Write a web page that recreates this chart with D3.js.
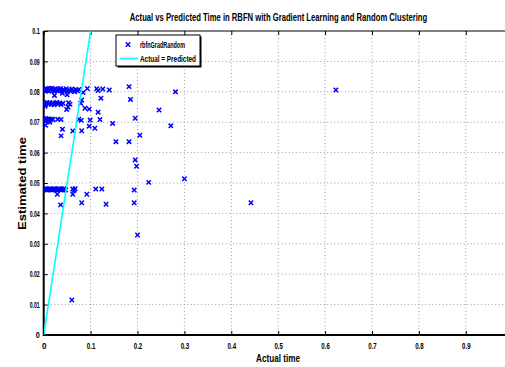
<!DOCTYPE html>
<html>
<head>
<meta charset="utf-8">
<script src="https://cdn.jsdelivr.net/npm/d3@7"></script>
<style>
  body { margin: 0; background: #fff; }
  text { font-family: "Liberation Sans Narrow", "Liberation Sans", Arial, sans-serif; }
</style>
</head>
<body>
<script>
// [actual, estimated] pairs
let points = [
  // row near 0.08
  [0.001,0.0808],[0.003,0.0803],[0.005,0.0811],[0.007,0.0805],[0.009,0.0809],[0.011,0.0802],
  [0.013,0.0810],[0.015,0.0806],[0.017,0.0812],[0.019,0.0804],[0.021,0.0808],[0.023,0.0801],
  [0.025,0.0810],[0.027,0.0806],[0.029,0.0803],[0.031,0.0809],[0.034,0.0805],[0.036,0.0811],
  [0.039,0.0802],[0.042,0.0807],[0.045,0.0804],[0.048,0.0810],[0.051,0.0801],[0.054,0.0806],
  [0.057,0.0803],[0.060,0.0809],[0.063,0.0805],[0.066,0.0800],[0.069,0.0807],[0.072,0.0803],
  [0.075,0.0808],
  [0.023,0.0788],[0.050,0.0790],[0.040,0.0795],[0.084,0.0798],[0.093,0.0811],[0.113,0.0810],
  [0.116,0.0804],[0.126,0.0809],[0.140,0.0806],[0.182,0.0817],[0.122,0.0779],[0.185,0.0775],
  [0.281,0.0800],[0.623,0.0806],
  // row near 0.076
  [0.001,0.0763],[0.004,0.0758],[0.007,0.0765],[0.010,0.0760],[0.013,0.0764],[0.016,0.0759],
  [0.019,0.0763],[0.022,0.0757],[0.025,0.0762],[0.028,0.0765],[0.031,0.0760],[0.034,0.0763],
  [0.037,0.0758],[0.041,0.0762],[0.053,0.0764],[0.056,0.0759],[0.081,0.0773],[0.079,0.0762],
  [0.049,0.0742],[0.052,0.0750],[0.003,0.0752],[0.088,0.0746],[0.097,0.0743],[0.116,0.0733],
  [0.246,0.0740],
  // row near 0.071
  [0.000,0.0710],[0.002,0.0706],[0.004,0.0712],[0.006,0.0708],[0.008,0.0711],[0.010,0.0705],
  [0.012,0.0710],[0.014,0.0707],[0.017,0.0711],[0.020,0.0708],[0.030,0.0710],[0.037,0.0709],
  [0.075,0.0710],[0.080,0.0706],[0.099,0.0707],[0.120,0.0709],[0.195,0.0713],
  [0.004,0.0690],[0.013,0.0700],[0.040,0.0677],[0.037,0.0655],[0.062,0.0671],[0.081,0.0672],
  [0.097,0.0687],[0.109,0.0680],[0.147,0.0696],[0.271,0.0688],[0.154,0.0636],[0.182,0.0636],
  [0.205,0.0657],
  // middle
  [0.195,0.0576],[0.198,0.0555],[0.224,0.0502],[0.300,0.0514],
  // row near 0.048
  [0.001,0.0480],[0.003,0.0478],[0.005,0.0481],[0.007,0.0477],[0.009,0.0480],[0.011,0.0478],
  [0.013,0.0481],[0.015,0.0479],[0.017,0.0477],[0.019,0.0480],[0.021,0.0478],[0.023,0.0481],
  [0.025,0.0479],[0.027,0.0477],[0.029,0.0480],[0.031,0.0478],[0.033,0.0481],[0.035,0.0479],
  [0.037,0.0477],[0.039,0.0480],[0.041,0.0478],[0.043,0.0481],[0.045,0.0479],[0.047,0.0477],
  [0.062,0.0480],[0.065,0.0476],[0.067,0.0481],
  [0.062,0.0463],[0.029,0.0463],[0.036,0.0428],[0.081,0.0435],[0.092,0.0463],[0.111,0.0480],
  [0.124,0.0480],[0.133,0.0430],[0.193,0.0477],[0.193,0.0435],[0.200,0.0329],[0.442,0.0435],
  [0.060,0.0115]
];
let idealLine = [0, 0.1];
let xTicks = [0, 0.1, 0.2, 0.3, 0.4, 0.5, 0.6, 0.7, 0.8, 0.9];
let yTicks = [0, 0.01, 0.02, 0.03, 0.04, 0.05, 0.06, 0.07, 0.08, 0.09, 0.1];
let legendLabels = ['rbfnGradRandom', 'Actual = Predicted'];

let width = 505, height = 367;
let margin = { left: 43.7, top: 31, bottom: 335, right: 512.7 };

let svg = d3.select('body').append('svg')
  .attr('width', width).attr('height', height);

let x = d3.scaleLinear().domain([0, 1]).range([margin.left, margin.right]);
let y = d3.scaleLinear().domain([0, 0.1]).range([margin.bottom, margin.top]);

// grid
let grid = svg.append('g').attr('stroke', '#9a9a9a').attr('stroke-dasharray', '1,2.5').attr('stroke-width', 1);
grid.selectAll('.gx').data(xTicks.slice(1)).enter().append('line')
  .attr('x1', d => x(d)).attr('x2', d => x(d)).attr('y1', margin.top).attr('y2', margin.bottom);
grid.selectAll('.gy').data(yTicks.slice(1, -1)).enter().append('line')
  .attr('y1', d => y(d)).attr('y2', d => y(d)).attr('x1', margin.left).attr('x2', width);

// axes
let fmt = d => d === 0 ? '0' : String(+d.toFixed(2));
let xAxis = d3.axisBottom(x).tickValues(xTicks).tickSize(-4).tickPadding(7).tickFormat(fmt);
let yAxis = d3.axisLeft(y).tickValues(yTicks).tickSize(-4).tickPadding(4).tickFormat(fmt);
let xTop = d3.axisTop(x).tickValues(xTicks).tickSize(-4).tickFormat('');

let gx = svg.append('g').attr('transform', 'translate(0,' + margin.bottom + ')').call(xAxis);
let gy = svg.append('g').attr('transform', 'translate(' + margin.left + ',0)').call(yAxis);
let gt = svg.append('g').attr('transform', 'translate(0,' + margin.top + ')').call(xTop);

[gx, gy, gt].forEach(g => {
  g.select('.domain').remove();
  g.selectAll('line').attr('stroke', '#000').attr('stroke-width', 1);
});
gx.selectAll('text').attr('font-size', 9.5).attr('font-weight', 'bold').attr('fill', '#000')
  .attr('textLength', d => d === 0 ? 4.5 : 8.5).attr('lengthAdjust', 'spacingAndGlyphs');
gy.selectAll('text').attr('font-size', 8.5).attr('font-weight', 'bold').attr('fill', '#000')
  .attr('textLength', d => d === 0 ? 4 : (d === 0.1 ? 7.5 : 10)).attr('lengthAdjust', 'spacingAndGlyphs');

// frame
svg.append('line').attr('x1', margin.left).attr('x2', width).attr('y1', margin.top).attr('y2', margin.top)
  .attr('stroke', '#000').attr('stroke-width', 1.2);
svg.append('line').attr('x1', margin.left).attr('x2', width).attr('y1', margin.bottom).attr('y2', margin.bottom)
  .attr('stroke', '#000').attr('stroke-width', 2);
svg.append('line').attr('x1', margin.left).attr('x2', margin.left).attr('y1', margin.top).attr('y2', margin.bottom + 1)
  .attr('stroke', '#000').attr('stroke-width', 2);

// clip
svg.append('clipPath').attr('id', 'plot').append('rect')
  .attr('x', margin.left).attr('y', margin.top)
  .attr('width', margin.right - margin.left).attr('height', margin.bottom - margin.top);

let plot = svg.append('g').attr('clip-path', 'url(#plot)');
let marker = 'M-2.2,-2.2L2.2,2.2M-2.2,2.2L2.2,-2.2';

plot.selectAll('.pt').data(points).enter().append('path')
  .attr('d', marker)
  .attr('transform', d => 'translate(' + x(d[0]) + ',' + y(d[1]) + ')')
  .attr('stroke', '#0000ff').attr('stroke-width', 1.5).attr('fill', 'none');

let line = d3.line().x(d => x(d)).y(d => y(d));
plot.append('path').attr('d', line(idealLine))
  .attr('stroke', '#00ffff').attr('stroke-width', 1.6).attr('fill', 'none');

// legend
let lg = svg.append('g');
lg.append('rect').attr('x', 117.5).attr('y', 36.5).attr('width', 84).attr('height', 31).attr('fill', '#000');
lg.append('rect').attr('x', 116).attr('y', 35).attr('width', 84).attr('height', 31)
  .attr('fill', '#fff').attr('stroke', '#000').attr('stroke-width', 1);
lg.append('path').attr('d', marker).attr('transform', 'translate(128,44.5)')
  .attr('stroke', '#0000ff').attr('stroke-width', 1.5).attr('fill', 'none');
lg.append('line').attr('x1', 120).attr('x2', 138).attr('y1', 58.5).attr('y2', 58.5)
  .attr('stroke', '#00ffff').attr('stroke-width', 1.6);
lg.selectAll('.lt').data(legendLabels).enter().append('text')
  .attr('x', 140).attr('y', (d, i) => 47.5 + i * 14)
  .attr('font-size', 8.5).attr('font-weight', 'bold')
  .attr('textLength', (d, i) => i === 0 ? 45 : 56).attr('lengthAdjust', 'spacingAndGlyphs')
  .text(d => d);

// titles
svg.append('g').attr('transform', 'translate(278.5,20.5) scale(0.73,1)')
  .append('text')
  .attr('text-anchor', 'middle')
  .attr('font-size', 10.5).attr('font-weight', 'bold')
  .text('Actual vs Predicted Time in RBFN with Gradient Learning and Random Clustering');

svg.append('text').attr('x', 256).attr('y', 362)
  .attr('font-size', 11).attr('font-weight', 'bold')
  .attr('textLength', 44).attr('lengthAdjust', 'spacingAndGlyphs')
  .text('Actual time');

svg.append('text').attr('transform', 'translate(25.5,230) rotate(-90)')
  .attr('font-size', 10).attr('font-weight', 'bold')
  .attr('textLength', 93).attr('lengthAdjust', 'spacingAndGlyphs')
  .text('Estimated time');
</script>
</body>
</html>
